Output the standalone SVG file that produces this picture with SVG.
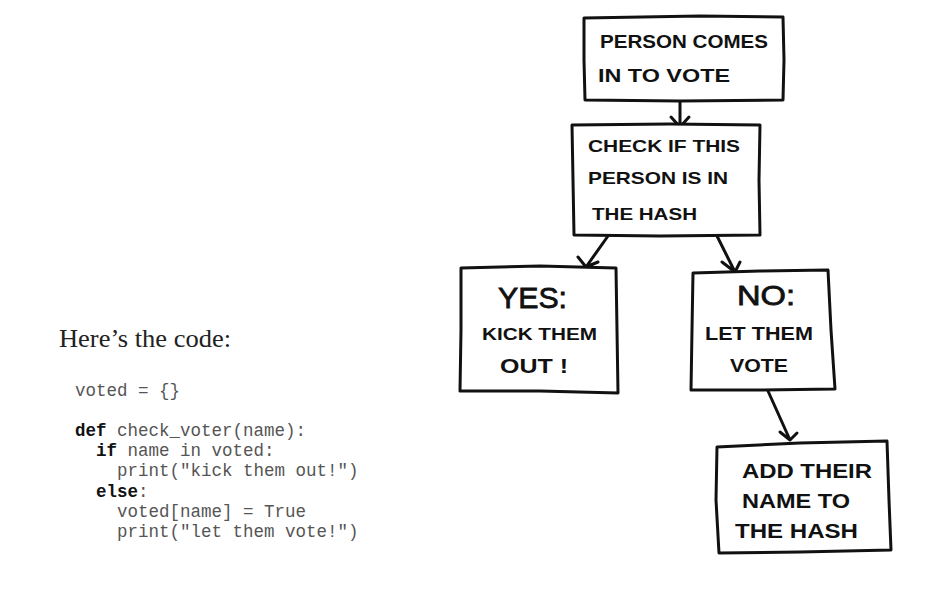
<svg xmlns="http://www.w3.org/2000/svg" width="931" height="606" viewBox="0 0 931 606">
<style>
.box{fill:#fff;stroke:#111;stroke-width:3;stroke-linejoin:round;stroke-linecap:round}
.hand{font-family:"Liberation Sans","DejaVu Sans",sans-serif;fill:#111;font-weight:bold}
.big{font-weight:normal;stroke:#111;stroke-width:0.8}
.con{fill:none;stroke:#111;stroke-width:3;stroke-linecap:round;stroke-linejoin:round}
.intro{font-family:"Liberation Serif","DejaVu Serif",serif;font-size:26px;fill:#222}
.code{font-family:"Liberation Mono","DejaVu Sans Mono",monospace;font-size:17.5px;fill:#555;white-space:pre}
.kw{font-weight:bold;fill:#111}
</style>
<rect width="931" height="606" fill="#fff"/>

<g id="intro">
<text class="intro" x="59" y="347" textLength="172" lengthAdjust="spacingAndGlyphs">Here’s the code:</text>
</g>
<g id="code">
<text class="code" x="75" y="396" xml:space="preserve">voted = {}</text>
<text class="code" x="75" y="436" xml:space="preserve"><tspan class="kw">def</tspan> check_voter(name):</text>
<text class="code" x="75" y="456" xml:space="preserve">  <tspan class="kw">if</tspan> name in voted:</text>
<text class="code" x="75" y="476" xml:space="preserve">    print("kick them out!")</text>
<text class="code" x="75" y="497" xml:space="preserve">  <tspan class="kw">else</tspan>:</text>
<text class="code" x="75" y="517" xml:space="preserve">    voted[name] = True</text>
<text class="code" x="75" y="537" xml:space="preserve">    print("let them vote!")</text>
</g>

<g id="connectors">
<path class="con" d="M680 100 L680 127 M671 117 L680 127 L689 117"/>
<path class="con" d="M608 236 L586 267 M578 257 L586 267 L598 262"/>
<path class="con" d="M717 236 L735 272 M722 262 L735 272 L740 262"/>
<path class="con" d="M768 391 L790 440 M780 432 L790 440 L797 433"/>
</g>

<g id="n1">
<path class="box" d="M584 18 L700 16 L783 17 L784 60 L783 100 L680 101 L585 100 L584 60 Z"/>
<text class="hand" x="600" y="48" font-size="19" textLength="168" lengthAdjust="spacingAndGlyphs">PERSON  COMES</text>
<text class="hand" x="598" y="82" font-size="19" textLength="132" lengthAdjust="spacingAndGlyphs">IN TO VOTE</text>
</g>
<g id="n2">
<path class="box" d="M572 125 L670 124 L760 125 L759 180 L760 235 L660 236 L574 235 L573 180 Z"/>
<text class="hand" x="588" y="152" font-size="17" textLength="152" lengthAdjust="spacingAndGlyphs">CHECK IF THIS</text>
<text class="hand" x="588" y="184" font-size="17" textLength="140" lengthAdjust="spacingAndGlyphs">PERSON IS IN</text>
<text class="hand" x="592" y="220" font-size="17" textLength="105" lengthAdjust="spacingAndGlyphs">THE HASH</text>
</g>
<g id="yes">
<path class="box" d="M461 268 L540 266 L616 268 L617 330 L618 393 L540 391 L460 391 L461 330 Z"/>
<text class="hand big" x="498" y="308" font-size="30" textLength="69" lengthAdjust="spacingAndGlyphs">YES:</text>
<text class="hand" x="482" y="340" font-size="16" textLength="115" lengthAdjust="spacingAndGlyphs">KICK THEM</text>
<text class="hand" x="500" y="373" font-size="21" textLength="68" lengthAdjust="spacingAndGlyphs">OUT !</text>
</g>
<g id="no">
<path class="box" d="M693 273 L760 271 L828 270 L831 330 L835 389 L760 390 L691 390 L692 330 Z"/>
<text class="hand big" x="737" y="305" font-size="28" textLength="58" lengthAdjust="spacingAndGlyphs">NO:</text>
<text class="hand" x="705" y="340" font-size="18" textLength="108" lengthAdjust="spacingAndGlyphs">LET THEM</text>
<text class="hand" x="730" y="372" font-size="18" textLength="58" lengthAdjust="spacingAndGlyphs">VOTE</text>
</g>
<g id="add">
<path class="box" d="M717 447 L800 443 L887 441 L889 500 L891 550 L800 552 L719 553 L716 500 Z"/>
<text class="hand" x="742" y="478" font-size="20" textLength="130" lengthAdjust="spacingAndGlyphs">ADD THEIR</text>
<text class="hand" x="742" y="508" font-size="20" textLength="108" lengthAdjust="spacingAndGlyphs">NAME TO</text>
<text class="hand" x="735" y="538" font-size="20" textLength="123" lengthAdjust="spacingAndGlyphs">THE HASH</text>
</g>
</svg>
